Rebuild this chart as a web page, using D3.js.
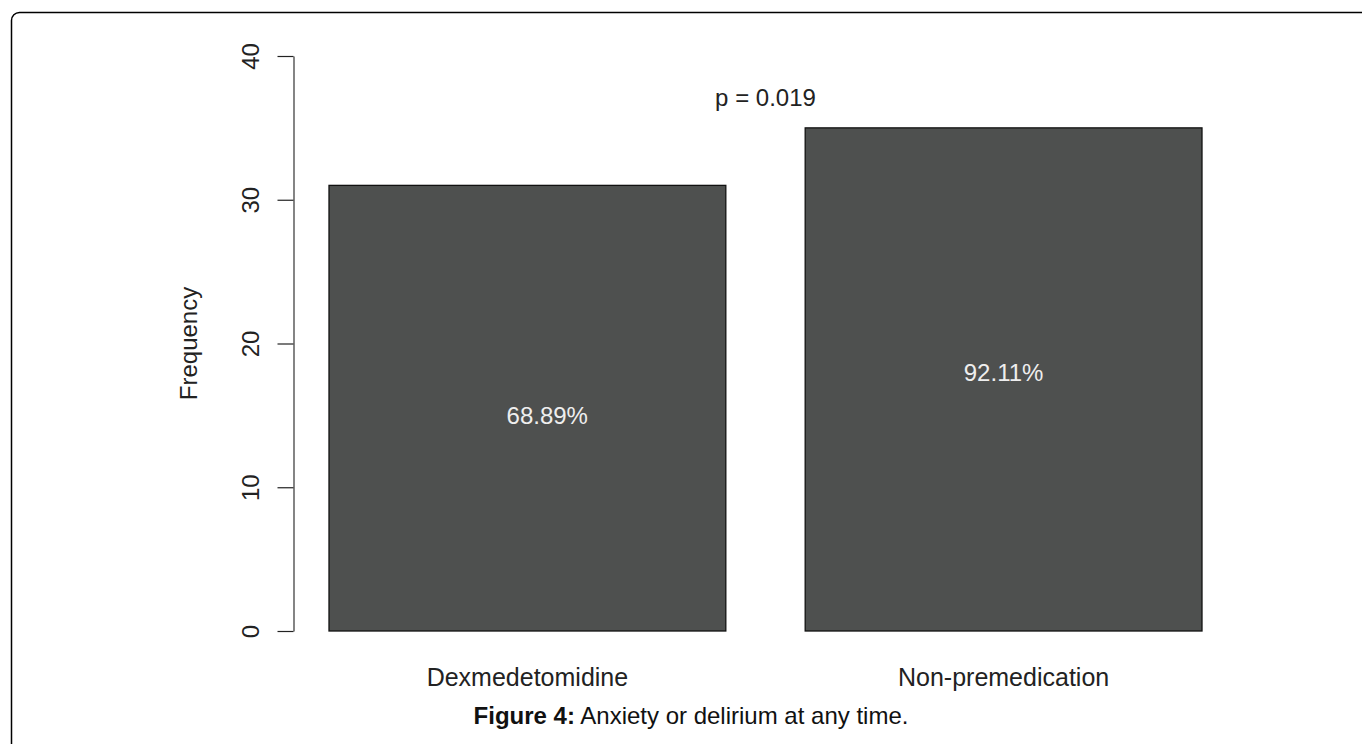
<!DOCTYPE html>
<html><head><meta charset="utf-8">
<script src="https://cdn.jsdelivr.net/npm/d3@7"></script>
<style>body{margin:0;background:#fff;} text{font-family:"Liberation Sans",Arial,sans-serif;}</style>
</head><body>
<svg id="c" width="1362" height="744"></svg>
<script>
const categories = ["Dexmedetomidine", "Non-premedication"];
const frequencies = [31, 35];
const percentLabels = ["68.89%", "92.11%"];
const percentY = [15, 18];
const percentX = [0.75, 1.9];
const yTicks = [0, 10, 20, 30, 40];
const pLabel = "p = 0.019";
const pPos = [1.3, 37.1];
const barLeft = [0.2, 1.4];
const barWidth = 1;

const FS = 24;
const svg = d3.select("#c");
svg.append("rect").attr("x", 11.5).attr("y", 12.5).attr("width", 1400).attr("height", 800)
  .attr("rx", 8).attr("fill", "none").attr("stroke", "#000").attr("stroke-width", 1.5);

const x = d3.scaleLinear().domain([0.2, 2.4]).range([329, 1202]);
const y = d3.scaleLinear().domain([0, 40]).range([631, 56]);

// y axis
const ax = svg.append("g").attr("transform", `translate(${Math.round(x(0.112)) - 0.5},0)`)
  .call(d3.axisLeft(y).tickValues(yTicks).tickSize(16).tickSizeOuter(0));
ax.select(".domain").attr("stroke", "#333").attr("stroke-width", 1.2);
ax.selectAll(".tick line").attr("stroke", "#222").attr("stroke-width", 1.2);
ax.selectAll(".tick text").attr("font-size", FS).attr("fill", "#222")
  .attr("text-anchor", "middle")
  .attr("transform", "translate(-43,0) rotate(-90)").attr("x", 0).attr("y", 0).attr("dy", "0.35em");

svg.append("text").attr("transform", `translate(197,${y(20)}) rotate(-90)`)
  .attr("text-anchor", "middle").attr("font-size", FS).attr("fill", "#222").text("Frequency");

// bars
svg.selectAll("rect.bar").data(frequencies).join("rect").attr("class", "bar")
  .attr("x", (d, i) => x(barLeft[i])).attr("width", (d, i) => x(barLeft[i] + barWidth) - x(barLeft[i]))
  .attr("y", d => y(d)).attr("height", d => y(0) - y(d))
  .attr("fill", "#4e504f").attr("stroke", "#111").attr("stroke-width", 1.3);

svg.selectAll("text.pct").data(percentLabels).join("text").attr("class", "pct")
  .attr("x", (d, i) => x(percentX[i])).attr("y", (d, i) => y(percentY[i])).attr("dy", "0.35em")
  .attr("text-anchor", "middle").attr("font-size", FS).attr("fill", "#eeeeee").text(d => d);

svg.append("text").attr("x", x(pPos[0])).attr("y", y(pPos[1])).attr("dy", "0.35em")
  .attr("text-anchor", "middle").attr("font-size", FS).attr("fill", "#222").text(pLabel);

svg.selectAll("text.cat").data(categories).join("text").attr("class", "cat")
  .attr("x", (d, i) => x(barLeft[i] + barWidth / 2)).attr("y", 686)
  .attr("text-anchor", "middle").attr("font-size", 25).attr("fill", "#222").text(d => d);

const cap = svg.append("text").attr("x", 691).attr("y", 724).attr("text-anchor", "middle")
  .attr("font-size", FS).attr("fill", "#111");
cap.append("tspan").attr("font-weight", "bold").text("Figure 4:");
cap.append("tspan").text(" Anxiety or delirium at any time.");
</script>
</body></html>
